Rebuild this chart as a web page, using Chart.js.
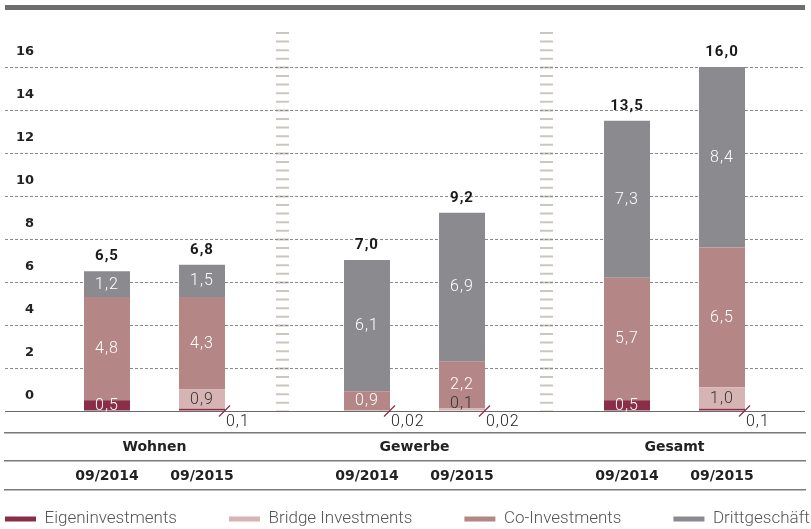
<!DOCTYPE html>
<html>
<head>
<meta charset="utf-8">
<script src="https://cdn.jsdelivr.net/npm/chart.js@4.4.0/dist/chart.umd.min.js"></script>
<style>
  body { margin: 0; background: #fff; }
  #wrap { position: relative; width: 811px; height: 529px; }
  #topbar { position: absolute; left: 5px; top: 5px; width: 800px; height: 5px; background: #6e6e6e; }
</style>
</head>
<body>
<div id="wrap">
  <canvas id="chart" width="811" height="529"></canvas>
  <div id="topbar"></div>
</div>
<script>
// Werte in Mrd. EUR
const groups = ['Wohnen', 'Gewerbe', 'Gesamt'];
const periods = ['09/2014', '09/2015'];
const yTicksMax = 16;

const eigen2014  = [0.5, 0.02, 0.5];
const eigen2015  = [0.1, 0.02, 0.1];
const bridge2014 = [0, 0, 0];
const bridge2015 = [0.9, 0.1, 1.0];
const co2014     = [4.8, 0.9, 5.7];
const co2015     = [4.3, 2.2, 6.5];
const dritt2014  = [1.2, 6.1, 7.3];
const dritt2015  = [1.5, 6.9, 8.4];

const colors = {
    eigen: '#8a2d46',
    bridge: '#d5b4b3',
    co: '#b58686',
    dritt: '#8b8b8f'
};

const catPct = 0.7308;
const barPct = 0.484;
const xMin = -0.575;
const xMax = 2.5019;
const yMax = 17.63;
const separators = [0.492, 1.506];

function fmt(v) {
    return (v < 0.1 ? v.toFixed(2) : v.toFixed(1)).replace('.', ',');
}

function makeSet(label, values, color, stack, textColor) {
    return {
        label: label,
        data: values,
        backgroundColor: color,
        borderWidth: 0,
        stack: stack,
        textColor: textColor,
        categoryPercentage: catPct,
        barPercentage: barPct
    };
}

const datasets = [
    makeSet('Eigeninvestments', eigen2014, colors.eigen, 'a', '#fff'),
    makeSet('Bridge Investments', bridge2014, colors.bridge, 'a', '#333'),
    makeSet('Co-Investments', co2014, colors.co, 'a', '#fff'),
    makeSet('Drittgeschäft', dritt2014, colors.dritt, 'a', '#fff'),
    makeSet('Eigeninvestments', eigen2015, colors.eigen, 'b', '#fff'),
    makeSet('Bridge Investments', bridge2015, colors.bridge, 'b', '#333'),
    makeSet('Co-Investments', co2015, colors.co, 'b', '#fff'),
    makeSet('Drittgeschäft', dritt2015, colors.dritt, 'b', '#fff')
];

const barLabels = {
    id: 'barLabels',
    afterDatasetsDraw(chart) {
        const ctx = chart.ctx;
        ctx.save();
        ctx.letterSpacing = '1px';
        ctx.textAlign = 'center';
        ctx.textBaseline = 'middle';
        const tops = {};
        chart.data.datasets.forEach((ds, di) => {
            const meta = chart.getDatasetMeta(di);
            meta.data.forEach((bar, i) => {
                const v = ds.data[i];
                const key = ds.stack + i;
                const t = tops[key] || (tops[key] = { y: bar.y, x: bar.x, sum: 0 });
                t.sum += v;
                if (v && bar.y < t.y) t.y = bar.y;
                if (!v) return;
                const h = bar.base - bar.y;
                const right = bar.x + bar.width / 2;
                ctx.font = '300 16px Roboto';
                if (h >= 8) {
                    ctx.fillStyle = ds.textColor;
                    ctx.fillText(fmt(v), bar.x, (bar.y + bar.base) / 2 + 0.5);
                } else if (ds.label === 'Eigeninvestments') {
                    ctx.strokeStyle = colors.eigen;
                    ctx.lineWidth = 1.2;
                    ctx.beginPath();
                    ctx.moveTo(right - 6, bar.base + 6);
                    ctx.lineTo(right + 5, bar.base - 5);
                    ctx.stroke();
                    ctx.fillStyle = '#222';
                    ctx.textAlign = 'left';
                    ctx.fillText(fmt(v), right + 1, bar.base + 11);
                    ctx.textAlign = 'center';
                } else {
                    ctx.fillStyle = '#333';
                    ctx.fillText(fmt(v), bar.x, bar.base - 7);
                }
            });
        });
        ctx.font = 'bold 15px Roboto';
        ctx.fillStyle = '#1a1a1a';
        Object.keys(tops).forEach(k => {
            const t = tops[k];
            ctx.fillText(fmt(Math.round(t.sum * 10) / 10), t.x, t.y - 15);
        });
        ctx.restore();
    }
};

const legendPad = 52;
const legendFont = 17;
const legendShift = {
    id: 'legendShift',
    afterLayout(chart) {
        const l = chart.legend;
        l.left = 5 - legendPad;
        l.right = 1000;
        l.top = 519 - legendPad - legendFont / 2;
        l.bottom = 529;
    }
};

const axisFont = { family: 'DejaVu Sans', size: 14, weight: 'bold' };

function labelAxis(weight, height) {
    return {
        type: 'linear',
        axis: 'x',
        position: 'bottom',
        weight: weight,
        min: xMin,
        max: xMax,
        offset: false,
        grid: { display: false, drawTicks: false, offset: false },
        border: { display: true, color: '#7a7a7a', width: 1.5 },
        afterFit: a => { a.height = height; }
    };
}

const xg = labelAxis(1, 28);
xg.afterBuildTicks = a => { a.ticks = groups.map((g, i) => ({ value: i })); };
xg.ticks = { autoSkip: false, maxRotation: 0, padding: 5.5, color: '#222', font: axisFont,
             callback: (v, i) => groups[i] };

const xd = labelAxis(2, 29);
xd.afterBuildTicks = a => {
    const d = catPct / 4;
    const t = [];
    groups.forEach((g, i) => { t.push({ value: i - d }); t.push({ value: i + d }); });
    a.ticks = t;
};
xd.ticks = { autoSkip: false, maxRotation: 0, padding: 6.5, color: '#222', font: axisFont,
             callback: (v, i) => periods[i % 2] };

const xe = labelAxis(3, 9);
xe.ticks = { display: false };

new Chart(document.getElementById('chart'), {
    type: 'bar',
    data: {
        labels: groups.map((g, i) => i),
        datasets: datasets
    },
    options: {
        responsive: false,
        animation: false,
        layout: { padding: { top: 32, left: 5, right: 6, bottom: 0 } },
        plugins: {
            tooltip: { enabled: false },
            legend: {
                position: 'bottom',
                align: 'start',
                maxHeight: 30,
                labels: {
                    boxWidth: 31,
                    boxHeight: 5,
                    padding: legendPad,
                    color: '#555',
                    font: { family: 'Roboto', size: legendFont, weight: 300 },
                    filter: item => item.datasetIndex < 4
                }
            }
        },
        scales: {
            x: {
                type: 'linear',
                min: xMin,
                max: xMax,
                offset: false,
                grid: { offset: false, drawTicks: false, color: '#cbc6be', lineWidth: 13 },
                border: { display: false, dash: [2, 6.6] },
                ticks: { display: false },
                afterBuildTicks: a => { a.ticks = separators.map(v => ({ value: v })); },
                afterFit: a => { a.height = 22; }
            },
            y: {
                type: 'linear',
                stacked: true,
                min: 0,
                max: yMax,
                afterBuildTicks: a => { a.ticks = a.ticks.filter(t => t.value <= yTicksMax); },
                afterFit: a => { a.width = 0; },
                ticks: {
                    stepSize: 2,
                    mirror: true,
                    crossAlign: 'far',
                    padding: 11,
                    labelOffset: -15,
                    color: '#222',
                    font: { family: 'DejaVu Sans', size: 13, weight: 'bold' }
                },
                grid: {
                    drawTicks: false,
                    lineWidth: 1,
                    color: c => (c.tick && c.tick.value === 0) ? '#6a6a6a' : '#8a8a8a'
                },
                border: { display: false, dash: c => (c.tick && c.tick.value === 0) ? [] : [3, 2] }
            },
            xg: xg,
            xd: xd,
            xe: xe
        }
    },
    plugins: [barLabels, legendShift]
});
</script>
</body>
</html>
